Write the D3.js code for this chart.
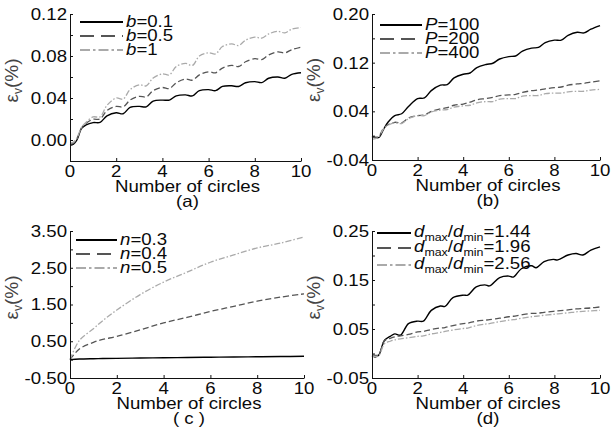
<!DOCTYPE html>
<html>
<head>
<meta charset="utf-8">
<script src="https://cdn.jsdelivr.net/npm/d3@7"></script>
<style>
  body { margin: 0; background: #fff; }
  text { font-family: "Liberation Sans", Arial, sans-serif; fill: #0a0a0a; }
</style>
</head>
<body>
<svg width="613" height="432"></svg>
<script>
// ---- data ----
const xTickVals = [0, 2, 4, 6, 8, 10];

// sample positions along "number of circles" for panels a, b
const cycleX = [0, 0.15, 0.3, 0.5, 0.7, 1.0, 1.3, 1.6, 2.0, 2.3, 2.6, 3.0, 3.3, 3.6, 4.0, 4.3, 4.6,
  5.0, 5.3, 5.6, 6.0, 6.3, 6.6, 7.0, 7.3, 7.6, 8.0, 8.3, 8.6, 9.0, 9.3, 9.6, 10];

const bLabels = ['0.1', '0.5', '1'];
const b01 = [-0.005, -0.004, 0.000, 0.011, 0.0145, 0.0166, 0.0168, 0.023, 0.026, 0.025, 0.031, 0.032, 0.0316,
  0.037, 0.038, 0.038, 0.042, 0.043, 0.042, 0.047, 0.048, 0.047, 0.051, 0.0516, 0.051, 0.0545, 0.0556,
  0.0547, 0.0588, 0.060, 0.0588, 0.0625, 0.064];
const b05 = [-0.004, -0.003, 0.001, 0.0115, 0.016, 0.0197, 0.020, 0.028, 0.032, 0.0315, 0.038, 0.0416, 0.041,
  0.047, 0.050, 0.049, 0.0545, 0.058, 0.057, 0.062, 0.065, 0.064, 0.0685, 0.071, 0.070, 0.0745, 0.0775,
  0.0766, 0.081, 0.084, 0.083, 0.086, 0.0885];
const b1 = [-0.003, -0.002, 0.002, 0.012, 0.017, 0.022, 0.022, 0.033, 0.040, 0.039, 0.048, 0.0525, 0.0516,
  0.059, 0.063, 0.062, 0.070, 0.073, 0.071, 0.080, 0.083, 0.082, 0.089, 0.0915, 0.090, 0.095, 0.098,
  0.097, 0.101, 0.1035, 0.102, 0.1055, 0.107];

const pLabels = ['100', '200', '400'];
const p100 = [-0.001, -0.003, -0.003, 0.010, 0.022, 0.033, 0.036, 0.048, 0.061, 0.062, 0.074, 0.083, 0.084,
  0.095, 0.101, 0.103, 0.112, 0.117, 0.119, 0.126, 0.130, 0.131, 0.139, 0.144, 0.145, 0.153, 0.157,
  0.157, 0.165, 0.170, 0.169, 0.175, 0.181];
const p200 = [-0.002, -0.003, -0.001, 0.012, 0.018, 0.022, 0.021, 0.029, 0.033, 0.034, 0.040, 0.044, 0.046,
  0.050, 0.052, 0.055, 0.059, 0.061, 0.063, 0.066, 0.067, 0.068, 0.071, 0.074, 0.075, 0.077, 0.079,
  0.080, 0.083, 0.085, 0.086, 0.088, 0.090];
const p400 = [-0.006, -0.005, -0.002, 0.011, 0.017, 0.021, 0.020, 0.028, 0.033, 0.033, 0.039, 0.042, 0.043,
  0.047, 0.049, 0.050, 0.054, 0.056, 0.056, 0.060, 0.061, 0.061, 0.065, 0.066, 0.066, 0.069, 0.070,
  0.070, 0.072, 0.073, 0.073, 0.075, 0.076];

const nX = [0, 0.4, 1, 1.4, 2, 3, 4, 5, 6, 7, 8, 9, 10];
const nLabels = ['0.3', '0.4', '0.5'];
const n03 = [0, 0.015, 0.025, 0.03, 0.035, 0.045, 0.05, 0.058, 0.065, 0.072, 0.078, 0.084, 0.09];
const n04 = [0, 0.29, 0.47, 0.55, 0.63, 0.81, 1.0, 1.15, 1.31, 1.45, 1.59, 1.70, 1.79];
const n05 = [0, 0.52, 0.84, 1.06, 1.35, 1.77, 2.11, 2.38, 2.65, 2.85, 3.04, 3.17, 3.34];

const dX = [0, 0.15, 0.3, 0.55, 0.8, 1.0, 1.25, 1.6, 2.0, 2.25, 2.6, 3.0, 3.2, 3.55, 4.0, 4.2, 4.57, 4.95,
  5.15, 5.6, 6.0, 6.2, 6.55, 7.0, 7.2, 7.55, 7.95, 8.15, 8.6, 8.95, 9.25, 9.6, 10];
const dLabels = ['1.44', '1.96', '2.56'];
const d144 = [-0.005, -0.007, -0.003, 0.027, 0.035, 0.040, 0.0375, 0.061, 0.066, 0.066, 0.088, 0.097, 0.096,
  0.114, 0.119, 0.119, 0.136, 0.140, 0.138, 0.155, 0.158, 0.156, 0.173, 0.179, 0.175, 0.1875, 0.192,
  0.191, 0.201, 0.204, 0.201, 0.211, 0.2175];
const d196 = [-0.003, -0.004, -0.002, 0.026, 0.031, 0.034, 0.036, 0.039, 0.044, 0.045, 0.049, 0.052, 0.053,
  0.057, 0.061, 0.062, 0.066, 0.068, 0.069, 0.072, 0.075, 0.076, 0.079, 0.082, 0.082, 0.084, 0.086,
  0.087, 0.089, 0.091, 0.092, 0.093, 0.095];
const d256 = [-0.005, -0.006, -0.004, 0.020, 0.025, 0.028, 0.030, 0.032, 0.035, 0.036, 0.040, 0.043, 0.045,
  0.048, 0.051, 0.052, 0.057, 0.060, 0.061, 0.065, 0.068, 0.069, 0.072, 0.075, 0.076, 0.078, 0.080,
  0.081, 0.083, 0.085, 0.086, 0.087, 0.088];

// y ticks (minor) and labelled ticks
const aTicks = [-0.02, 0, 0.02, 0.04, 0.06, 0.08, 0.10, 0.12];
const aLabels = ['0.00', '0.04', '0.08', '0.12'];
const bTicks = [-0.04, 0, 0.04, 0.08, 0.12, 0.16, 0.20];
const bTickLabels = ['-0.04', '0.04', '0.12', '0.20'];
const cTicks = [-0.5, 0, 0.5, 1, 1.5, 2, 2.5, 3, 3.5];
const cTickLabels = ['-0.50', '0.50', '1.50', '2.50', '3.50'];
const dTicks = [-0.05, 0, 0.05, 0.10, 0.15, 0.20, 0.25];
const dTickLabels = ['-0.05', '0.05', '0.15', '0.25'];

// ---- styles ----
const SX = 1.13; // the picture's text is a little wide
const lineStyles = [
  { stroke: '#000', dash: null, legendDash: null, w: 1.4 },
  { stroke: '#555', dash: '6,3', legendDash: '14,7', w: 1.3 },
  { stroke: '#aaa', dash: '6,2,1.5,2', legendDash: '10,3,2.5,3', w: 1.3 }
];

const svg = d3.select('svg');

const label = (sel, x, y, str, anchor) => sel.append('text')
  .attr('transform', `translate(${x},${y}) scale(${SX},1)`)
  .attr('text-anchor', anchor || 'middle')
  .style('font-size', '16.5px')
  .text(str);

const panels = [
  { tag: '(a)', xs: [cycleX, cycleX, cycleX], ys: [b01, b05, b1], domain: [-0.02, 0.12],
    ticks: aTicks, tickLabels: aLabels, v: 'b', names: bLabels,
    left: 70, right: 301, top: 14, bottom: 161, legX: [80, 123], legY: [22, 36, 50] },
  { tag: '(b)', xs: [cycleX, cycleX, cycleX], ys: [p100, p200, p400], domain: [-0.04, 0.20],
    ticks: bTicks, tickLabels: bTickLabels, v: 'P', names: pLabels,
    left: 372, right: 600, top: 14, bottom: 160, legX: [380, 422], legY: [25, 39, 53] },
  { tag: '( c )', xs: [nX, nX, nX], ys: [n03, n04, n05], domain: [-0.5, 3.5],
    ticks: cTicks, tickLabels: cTickLabels, v: 'n', names: nLabels,
    left: 70, right: 304, top: 231, bottom: 378, legX: [76, 117], legY: [240, 254, 268] },
  { tag: '(d)', xs: [dX, dX, dX], ys: [d144, d196, d256], domain: [-0.05, 0.25],
    ticks: dTicks, tickLabels: dTickLabels, v: 'd', names: dLabels,
    left: 372, right: 600, top: 231, bottom: 378, legX: [377, 411], legY: [233, 248, 265] }
];

panels.forEach(p => {
  const x = d3.scaleLinear().domain([0, 10]).range([p.left, p.right]);
  const y = d3.scaleLinear().domain(p.domain).range([p.bottom, p.top]);
  const g = svg.append('g');

  // curves
  const line = d3.line().curve(d3.curveCatmullRom.alpha(0.5));
  p.ys.forEach((vals, i) => {
    const st = lineStyles[i];
    g.append('path')
      .attr('d', line(vals.map((v, j) => [x(p.xs[i][j]), y(v)])))
      .attr('fill', 'none')
      .attr('stroke', st.stroke)
      .attr('stroke-width', st.w)
      .attr('stroke-dasharray', st.dash);
  });

  // axes, ticks pointing inward
  g.append('g').attr('transform', `translate(${p.left},0)`)
    .call(d3.axisLeft(y).tickValues(p.ticks).tickSizeInner(-3).tickSizeOuter(0).tickFormat(() => ''))
    .call(a => a.selectAll('path,line').attr('stroke', '#111'));
  g.append('g').attr('transform', `translate(0,${p.bottom})`)
    .call(d3.axisBottom(x).tickValues(xTickVals).tickSizeInner(-3).tickSizeOuter(0).tickFormat(() => ''))
    .call(a => a.selectAll('path,line').attr('stroke', '#111'));

  // tick labels
  p.tickLabels.forEach(t => {
    label(g, p.left - 3, y(+t), t, 'end').attr('dy', '0.36em');
  });
  xTickVals.forEach(t => label(g, x(t), p.bottom + 16, String(t)));

  const mid = (p.left + p.right) / 2 + 2;
  label(g, mid, p.bottom + 31, 'Number of circles');
  label(g, mid, p.bottom + 46, p.tag);

  // y label
  const yl = g.append('text')
    .attr('transform', `translate(${p.left - 52},${(p.top + p.bottom) / 2 - 7}) rotate(-90)`)
    .attr('text-anchor', 'middle')
    .style('font-size', '19px')
    .style('fill', '#444');
  yl.append('tspan').text('ε');
  yl.append('tspan').attr('dy', 4).style('font-size', '12px').text('v');
  yl.append('tspan').attr('dy', -4).text('(%)');

  // legend
  p.names.forEach((nm, i) => {
    const st = lineStyles[i];
    const ly = p.legY[i];
    g.append('line')
      .attr('x1', p.legX[0]).attr('x2', p.legX[1])
      .attr('y1', ly).attr('y2', ly)
      .attr('stroke', st.stroke)
      .attr('stroke-width', 2)
      .attr('stroke-dasharray', st.legendDash);
    const t = label(g, p.legX[1] + 3, ly + 5, null, 'start');
    if (p.v === 'd') {
      t.attr('transform', `translate(${p.legX[1] + 3},${ly + 4}) scale(${SX},1)`);
      t.append('tspan').style('font-style', 'italic').text('d');
      t.append('tspan').attr('dy', 4).style('font-size', '11px').text('max');
      t.append('tspan').attr('dy', -4).text('/');
      t.append('tspan').style('font-style', 'italic').text('d');
      t.append('tspan').attr('dy', 4).style('font-size', '11px').text('min');
      t.append('tspan').attr('dy', -4).text('=' + nm);
    } else {
      t.append('tspan').style('font-style', 'italic').text(p.v);
      t.append('tspan').text('=' + nm);
    }
  });
});
</script>
</body>
</html>
